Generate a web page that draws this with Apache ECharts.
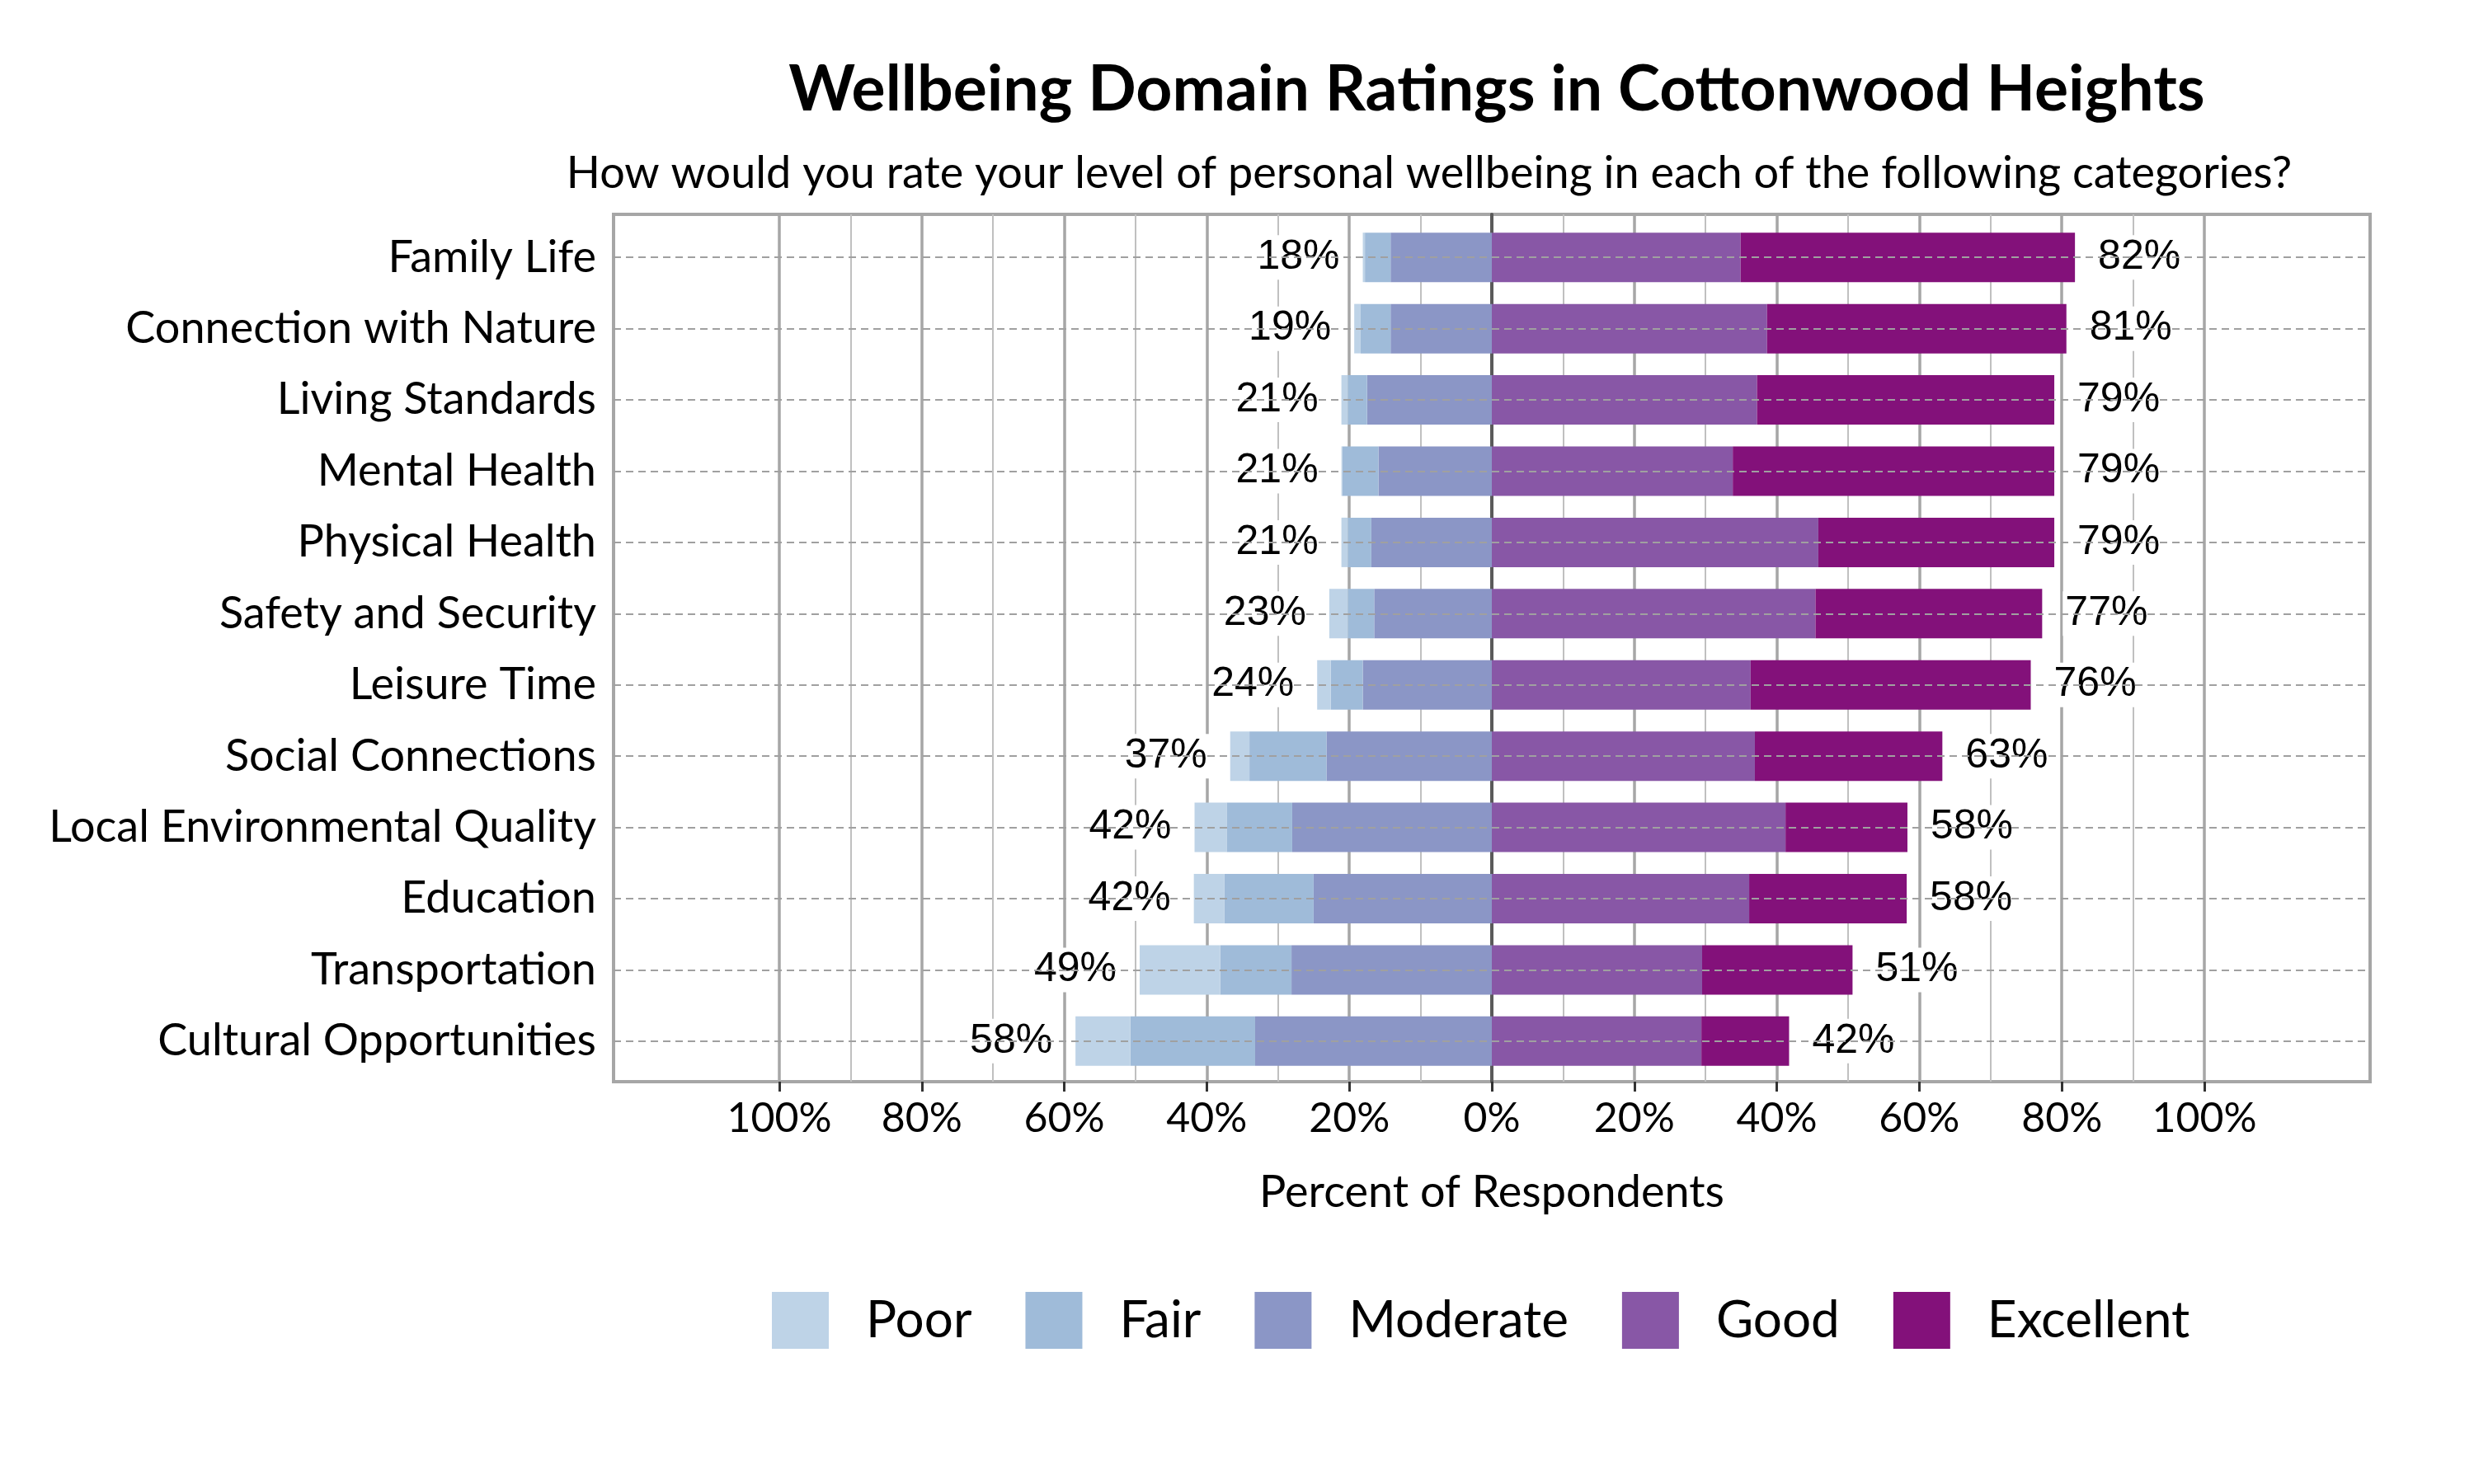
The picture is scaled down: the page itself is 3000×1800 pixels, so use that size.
<!DOCTYPE html>
<html>
<head>
<meta charset="utf-8">
<script src="https://cdn.jsdelivr.net/npm/echarts@6/dist/echarts.min.js"></script>
<style>
  html, body { margin: 0; padding: 0; background: #fff; }
  #main { width: 3000px; height: 1800px; }
</style>
</head>
<body>
<div id="main"></div>
<script>
var categories = ['Family Life', 'Connection with Nature', 'Living Standards', 'Mental Health',
    'Physical Health', 'Safety and Security', 'Leisure Time', 'Social Connections',
    'Local Environmental Quality', 'Education', 'Transportation', 'Cultural Opportunities'];

var poor      = [0.3, 0.9, 0.9, 0.1, 0.9, 2.6, 1.9, 2.7, 4.5, 4.3, 11.3, 7.7];
var fair      = [3.6, 4.2, 2.7, 5.1, 3.3, 3.7, 4.5, 10.8, 9.2, 12.5, 10.0, 17.5];
var moderate  = [14.2, 14.2, 17.5, 15.9, 16.9, 16.5, 18.1, 23.2, 28.0, 25.0, 28.1, 33.2];
var good      = [34.9, 38.6, 37.2, 33.8, 45.8, 45.4, 36.3, 36.9, 41.2, 36.1, 29.5, 29.4];
var excellent = [46.9, 42.0, 41.7, 45.1, 33.1, 31.8, 39.3, 26.3, 17.1, 22.1, 21.1, 12.3];

var negTotals = [18, 19, 21, 21, 21, 23, 24, 37, 42, 42, 49, 58];
var posTotals = [82, 81, 79, 79, 79, 77, 76, 63, 58, 58, 51, 42];

var colors = {
    Poor: '#bed3e7',
    Fair: '#9fbbd9',
    Moderate: '#8b96c6',
    Good: '#8857a6',
    Excellent: '#83117a'
};

var font = 'Lato';
var numFont = 'Liberation Sans';

function neg(arr) {
    return arr.map(function (v) { return -v; });
}

var pctLabel = {
    show: true,
    fontFamily: numFont,
    fontSize: 50,
    color: '#000',
    backgroundColor: '#fff',
    padding: [2, 3],
    distance: 25
};

var chart = echarts.init(document.getElementById('main'), null, { renderer: 'canvas' });

chart.setOption({
    backgroundColor: '#fff',
    animation: false,
    title: [
        {
            text: 'Wellbeing Domain Ratings in Cottonwood Heights',
            left: 1810,
            top: 66,
            textAlign: 'center',
            textStyle: { fontFamily: font, fontWeight: 'bold', fontSize: 77, color: '#000' }
        },
        {
            text: 'How would you rate your level of personal wellbeing in each of the following categories?',
            left: 1728,
            top: 179,
            textAlign: 'center',
            textStyle: { fontFamily: font, fontWeight: 'normal', fontSize: 54, color: '#000' }
        }
    ],
    legend: {
        data: ['Poor', 'Fair', 'Moderate', 'Good', 'Excellent'],
        left: 931,
        top: 1562,
        icon: 'rect',
        itemWidth: 69,
        itemHeight: 69,
        itemGap: 65,
        textStyle: { fontFamily: font, fontSize: 62, color: '#000', padding: [20, 0, 0, 40] }
    },
    grid: [
        // frame
        { left: 744, right: 126, top: 260, bottom: 488, show: true, borderColor: '#a6a6a6', borderWidth: 4, backgroundColor: 'transparent' },
        // percent gridlines
        { left: 945, right: 327, top: 260, bottom: 488 },
        // bars
        { left: 744, right: 126, top: 269, bottom: 494 }
    ],
    xAxis: [
        { gridIndex: 0, type: 'value', min: 0, max: 1, show: false },
        {
            gridIndex: 1,
            type: 'value',
            min: -100,
            max: 100,
            interval: 20,
            axisLine: { show: false, onZero: false },
            axisTick: { show: true, length: 12, lineStyle: { color: '#333', width: 3 } },
            axisLabel: {
                fontFamily: font, fontSize: 50, color: '#000', margin: 20,
                formatter: function (v) { return Math.abs(v) + '%'; }
            },
            splitLine: { show: true, lineStyle: { color: '#a6a6a6', width: 3.5 } },
            minorTick: { show: false, splitNumber: 2 },
            minorSplitLine: { show: true, lineStyle: { color: '#c0c0c0', width: 2 } },
            name: 'Percent of Respondents',
            nameLocation: 'middle',
            nameGap: 108,
            nameTextStyle: { fontFamily: font, fontSize: 54, color: '#000' }
        },
        { gridIndex: 2, type: 'value', min: -123.2, max: 123.2, show: false }
    ],
    yAxis: [
        { gridIndex: 0, type: 'value', min: 0, max: 1, show: false },
        {
            gridIndex: 1,
            type: 'value',
            min: 0,
            max: 1,
            axisLine: { show: true, onZero: true, lineStyle: { color: '#5a5a5a', width: 4 } },
            axisTick: { show: false },
            axisLabel: { show: false },
            splitLine: { show: false }
        },
        {
            gridIndex: 2,
            type: 'category',
            data: categories,
            inverse: true,
            axisLine: { show: false },
            axisTick: { show: false },
            splitLine: { show: false },
            axisLabel: { fontFamily: font, fontSize: 54, color: '#000', margin: 21 }
        }
    ],
    series: [
        {
            name: 'rows',
            type: 'line',
            xAxisIndex: 2,
            yAxisIndex: 2,
            data: [],
            z: 1,
            silent: true,
            markLine: {
                silent: true,
                symbol: ['none', 'none'],
                label: { show: false },
                lineStyle: { color: '#a0a0a0', width: 2, type: [9, 6] },
                data: categories.map(function (c) { return { yAxis: c }; })
            }
        },
        {
            name: 'Moderate',
            type: 'bar',
            stack: 'a',
            xAxisIndex: 2,
            yAxisIndex: 2,
            barWidth: 60,
            z: 2,
            itemStyle: { color: colors.Moderate },
            data: neg(moderate)
        },
        {
            name: 'Fair',
            type: 'bar',
            stack: 'a',
            xAxisIndex: 2,
            yAxisIndex: 2,
            barWidth: 60,
            z: 2,
            itemStyle: { color: colors.Fair },
            data: neg(fair)
        },
        {
            name: 'Poor',
            type: 'bar',
            stack: 'a',
            xAxisIndex: 2,
            yAxisIndex: 2,
            barWidth: 60,
            z: 2,
            itemStyle: { color: colors.Poor },
            label: Object.assign({}, pctLabel, {
                position: 'left',
                formatter: function (p) { return negTotals[p.dataIndex] + '%'; }
            }),
            data: neg(poor)
        },
        {
            name: 'Good',
            type: 'bar',
            stack: 'a',
            xAxisIndex: 2,
            yAxisIndex: 2,
            barWidth: 60,
            z: 2,
            itemStyle: { color: colors.Good },
            data: good
        },
        {
            name: 'Excellent',
            type: 'bar',
            stack: 'a',
            xAxisIndex: 2,
            yAxisIndex: 2,
            barWidth: 60,
            z: 2,
            itemStyle: { color: colors.Excellent },
            label: Object.assign({}, pctLabel, {
                position: 'right',
                formatter: function (p) { return posTotals[p.dataIndex] + '%'; }
            }),
            data: excellent
        }
    ]
});
</script>
</body>
</html>
